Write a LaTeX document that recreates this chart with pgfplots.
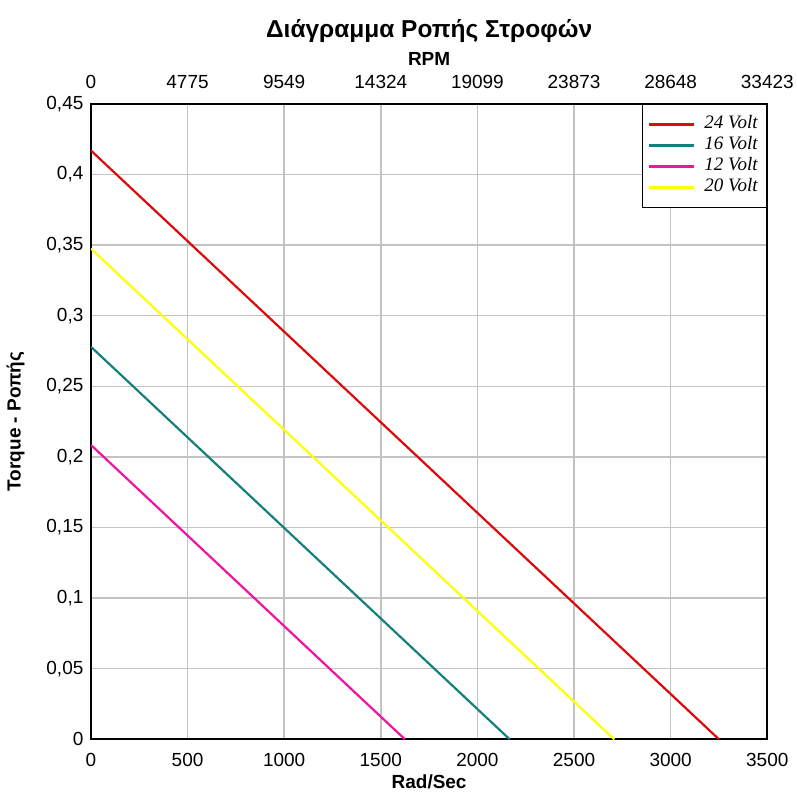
\documentclass[border=0pt]{standalone}
\usepackage{fontspec}
\setmainfont{Liberation Sans}
\newfontfamily\legfont{Liberation Serif}
\usepackage{pgfplots}
\pgfplotsset{compat=1.18}
\definecolor{cRed}{RGB}{220,10,10}
\definecolor{cTeal}{RGB}{20,128,124}
\definecolor{cMag}{RGB}{240,20,160}
\definecolor{cYel}{RGB}{255,255,0}
\definecolor{cGrid}{RGB}{195,195,195}
\begin{document}
\begin{tikzpicture}
\pgfplotsset{
  common/.style={
    scale only axis, width=677pt, height=636pt,
    xmin=0, xmax=3500, ymin=0, ymax=0.45,
    major tick length=0pt,
    tick label style={font=\fontsize{19}{21}\selectfont},
    label style={font=\bfseries\fontsize{19}{21}\selectfont},
    /pgf/number format/assume math mode=true,
  }
}
\begin{axis}[common, name=main,
  axis line style={line width=2.2pt, black},
  grid=major, grid style={cGrid, line width=1.5pt},
  xtick={0,500,...,3500},
  ytick={0,0.05,...,0.451},
  yticklabel style={xshift=-4pt, /pgf/number format/.cd, use comma, fixed, precision=2},
  xticklabel style={yshift=-10pt, /pgf/number format/.cd, 1000 sep={}},
  xlabel={Rad/Sec}, ylabel={Torque - Ροπής},
  xlabel style={yshift=-2pt},
  ylabel style={yshift=15pt},
  legend style={at={(1,1)}, anchor=north east, draw=black, line width=1.2pt,
    font=\legfont\itshape\fontsize{19}{20}\selectfont,
    inner xsep=6pt, inner ysep=12pt, row sep=5pt, column sep=6pt,
    nodes={inner xsep=3pt, inner ysep=0pt, text height=12pt, text depth=4pt}},
  legend cell align=left,
  legend image code/.code={\draw[#1, line width=2.2pt] (0pt,0pt) -- (45pt,0pt);},
]
\addplot[cRed, line width=2.2pt] coordinates {(0,0.417) (3250,0)};
\addlegendentry{24 Volt}
\addplot[cTeal, line width=2.2pt] coordinates {(0,0.278) (2167,0)};
\addlegendentry{16 Volt}
\addplot[cMag, line width=2.2pt] coordinates {(0,0.2085) (1625,0)};
\addlegendentry{12 Volt}
\addplot[cYel, line width=2.2pt] coordinates {(0,0.3475) (2708,0)};
\addlegendentry{20 Volt}
\end{axis}
\begin{axis}[common,
  axis x line*=top, axis y line=none,
  axis line style={draw=none},
  xtick={0,500,...,3500},
  xticklabels={0,4775,9549,14324,19099,23873,28648,33423},
  xticklabel style={yshift=12pt},
  xlabel={RPM},
  xlabel style={yshift=3pt},
  title={Διάγραμμα Ροπής Στροφών},
  title style={font=\bfseries\fontsize{24.5}{28}\selectfont, yshift=52pt},
]
\end{axis}
\path (main.south west) ++(-91pt,-51pt) rectangle ++(797pt,791pt);
\end{tikzpicture}
\end{document}
